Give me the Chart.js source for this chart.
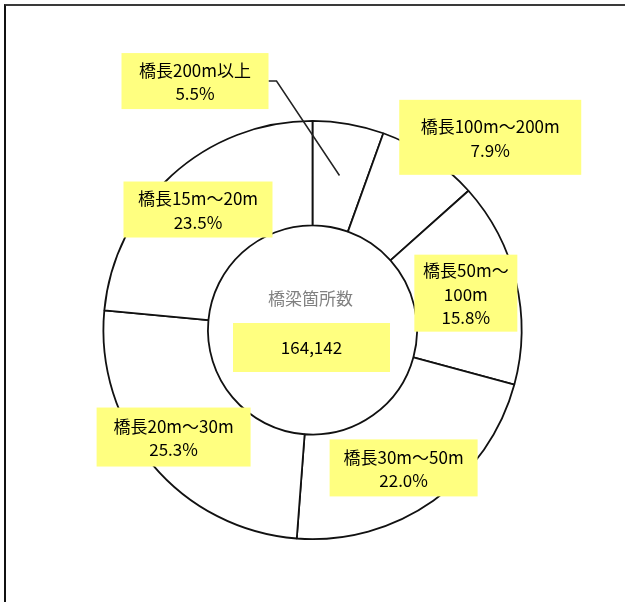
<!DOCTYPE html>
<html><head><meta charset="utf-8">
<script src="https://cdn.jsdelivr.net/npm/chart.js@4.4.1/dist/chart.umd.min.js"></script>
<style>
html,body{margin:0;padding:0;background:#fff;}
#wrap{position:relative;width:625px;height:602px;overflow:hidden;}
#frame{position:absolute;left:4px;top:4px;width:700px;height:700px;border-top:2px solid #3a3a3a;border-left:2px solid #111;box-sizing:border-box;}
canvas{position:absolute;left:0;top:0;}
</style></head><body>
<div id="wrap"><div id="frame"></div><canvas id="c" width="625" height="602"></canvas></div>
<script>
const categories = ['橋長200m以上','橋長100m～200m','橋長50m～100m','橋長30m～50m','橋長20m～30m','橋長15m～20m'];
const shares = [5.5, 7.9, 15.8, 22.0, 25.3, 23.5];
const labelTitles = [['橋長200m以上'],['橋長100m～200m'],['橋長50m～','100m'],['橋長30m～50m'],['橋長20m～30m'],['橋長15m～20m']];
const centerTitle = '橋梁箇所数';
const bridgeTotal = 164142;

// label box placement relative to donut centre (px at outer radius 210)
const labelBoxes = [
  {dx:-118, dy:-250, w:147, h:56, leader:true},
  {dx:178.5, dy:-193.5, w:182, h:75},
  {dx:154, dy:-37, w:103, h:77},
  {dx:91.5, dy:138.5, w:148, h:57},
  {dx:-139.5, dy:107.5, w:154, h:59},
  {dx:-115, dy:-121, w:149, h:56}
];
const YELLOW = '#ffff80';
const FONT = '17px "Noto Sans CJK JP", "Noto Sans", sans-serif';

const labelPlugin = {
  id:'labels',
  afterDraw(chart){
    const ctx = chart.ctx;
    const meta = chart.getDatasetMeta(0);
    const a0 = meta.data[0];
    const cx = a0.x, cy = a0.y, R = a0.outerRadius;
    const s = R/210;
    ctx.save();
    // leader lines
    labelBoxes.forEach((b,i)=>{
      if(!b.leader) return;
      const arc = meta.data[i];
      const mid = (arc.startAngle+arc.endAngle)/2;
      const r = (arc.innerRadius+arc.outerRadius)/2;
      const ex = cx + Math.cos(mid)*r, ey = cy + Math.sin(mid)*r;
      const bx = cx + b.dx*s + b.w/2, by = cy + b.dy*s;
      ctx.beginPath();
      ctx.moveTo(bx, by);
      ctx.lineTo(bx+8, by);
      ctx.lineTo(ex, ey);
      ctx.strokeStyle = '#222';
      ctx.lineWidth = 1.5;
      ctx.stroke();
    });
    // boxes
    ctx.font = FONT;
    ctx.textAlign = 'center';
    ctx.textBaseline = 'middle';
    labelBoxes.forEach((b,i)=>{
      const x = cx + b.dx*s, y = cy + b.dy*s;
      ctx.fillStyle = YELLOW;
      ctx.fillRect(x-b.w/2, y-b.h/2, b.w, b.h);
      const lines = labelTitles[i].concat([shares[i].toFixed(1)+'%']);
      const lh = 23.5;
      ctx.fillStyle = '#000';
      lines.forEach((t,k)=>{
        ctx.fillText(t, x, y + (k-(lines.length-1)/2)*lh + 1);
      });
    });
    // centre
    ctx.fillStyle = '#808080';
    ctx.fillText(centerTitle, cx-2, cy-31);
    ctx.fillStyle = YELLOW;
    ctx.fillRect(cx-79.5, cy-7, 157, 49);
    ctx.fillStyle = '#000';
    ctx.fillText(bridgeTotal.toLocaleString('en-US'), cx-1, cy+18);
    ctx.restore();
  }
};

new Chart(document.getElementById('c'), {
  type:'doughnut',
  data:{
    labels: categories,
    datasets:[{
      data: shares,
      backgroundColor:'#ffffff',
      borderColor:'#111111',
      borderWidth:1.8
    }]
  },
  options:{
    responsive:false,
    animation:false,
    cutout:'50%',
    layout:{padding:{left:102.5,right:102.5,top:120,bottom:62}},
    plugins:{legend:{display:false},tooltip:{enabled:false}}
  },
  plugins:[labelPlugin]
});
</script>
</body></html>
